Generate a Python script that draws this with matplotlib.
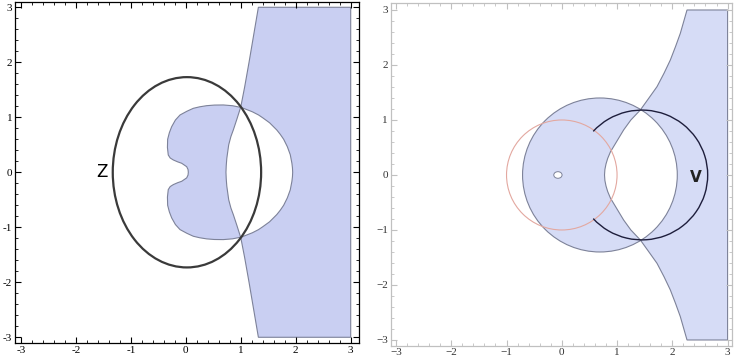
import numpy as np
import matplotlib
matplotlib.use('Agg')
import matplotlib.pyplot as plt
from matplotlib.patches import Polygon, Ellipse, Circle, Arc
from matplotlib.ticker import MultipleLocator

# ---- left panel (Z plane), upper halves; shapes are symmetric in y
z_curve_x = [0.73, 0.735, 0.745, 0.78, 0.82, 0.864, 0.93, 1.0, 1.07, 1.15, 1.235, 1.32]
z_curve_y = [0.0, 0.12, 0.25, 0.5, 0.65, 0.77, 0.97, 1.19, 1.55, 2.0, 2.5, 3.0]

kid_x = [1.944, 1.94, 1.93, 1.90, 1.847, 1.78, 1.718, 1.655, 1.524, 1.40, 1.323, 1.21, 1.07,
         1.0, 0.85, 0.682, 0.52, 0.379, 0.25, 0.136, 0.02, -0.106, -0.19, -0.258,
         -0.30, -0.331, -0.335, -0.32, -0.285, -0.228, -0.15, -0.076, 0.015, 0.04, 0.045]
kid_y = [0.0, 0.08, 0.164, 0.32, 0.465, 0.6, 0.69, 0.769, 0.9, 0.99, 1.042, 1.1, 1.155,
         1.18, 1.21, 1.224, 1.222, 1.211, 1.19, 1.163, 1.11, 1.042, 0.95, 0.829,
         0.72, 0.6, 0.45, 0.315, 0.26, 0.224, 0.19, 0.164, 0.102, 0.05, 0.0]

z_ell = (0.02, 0.0, 2.70, 3.46)   # cx, cy, width, height
z_label = ('Z', -1.53, 0.0)

# ---- right panel (V plane)
v_curve_x = [0.773, 0.78, 0.80, 0.83, 0.88, 0.94, 1.03, 1.12, 1.25, 1.42, 1.57,
             1.723, 1.85, 1.964, 2.06, 2.145, 2.266]
v_curve_y = [0.0, 0.1, 0.2, 0.3, 0.42, 0.52, 0.67, 0.82, 1.0, 1.18, 1.39,
             1.606, 1.85, 2.09, 2.34, 2.576, 3.0]
v_disk = (0.69, 0.0, 1.4)
v_hole = (-0.07, 0.0, 0.15, 0.12)
v_unit = (0.0, 0.0, 1.0)
v_arc = (1.45, 0.0, 2.38, 2.36, -138.0, 138.0)
v_label = ('V', 2.42, -0.05)

fill_l = '#c9cff2'
fill_r = '#d6dcf6'
edge_c = '#7d8299'


def closed_outline(xs, ys):
    """upper half (y>=0, from y=0 onwards) -> full y-symmetric closed outline"""
    xs, ys = np.asarray(xs), np.asarray(ys)
    return np.column_stack([np.concatenate([xs, xs[::-1][1:-1]]),
                            np.concatenate([ys, -ys[::-1][1:-1]])])


def right_region(cx, cy):
    cx, cy = np.asarray(cx), np.asarray(cy)
    # top of the curve down to its bottom, then back up along x = 3
    px = np.concatenate([cx[::-1], cx[1:], [3.0, 3.0]])
    py = np.concatenate([cy[::-1], -cy[1:], [-3.0, 3.0]])
    return np.column_stack([px, py])


def frame(ax, xlim, ylim, col, lab_col, minus):
    ax.set_xlim(*xlim)
    ax.set_ylim(*ylim)
    ax.xaxis.set_minor_locator(MultipleLocator(0.2))
    ax.yaxis.set_minor_locator(MultipleLocator(0.2))
    ax.tick_params(which='both', direction='in', top=True, right=True,
                   color=col, labelsize=8, labelcolor=lab_col, pad=2)
    ax.tick_params(which='major', length=4, width=0.8)
    ax.tick_params(which='minor', length=2, width=0.6)
    ticks = [-3, -2, -1, 0, 1, 2, 3]
    labs = [str(t).replace('-', minus) for t in ticks]
    ax.set_xticks(ticks)
    ax.set_xticklabels(labs, family='Liberation Serif')
    ax.set_yticks(ticks)
    ax.set_yticklabels(labs, family='Liberation Serif')
    for s in ax.spines.values():
        s.set_color(col)
        s.set_linewidth(0.9)


def xor_fill(ax, region, other, fc):
    """fill region XOR other: both filled, their overlap painted white"""
    ax.add_patch(Polygon(region, closed=True, fc=fc, ec='none'))
    ax.add_patch(other(fc=fc, ec='none'))
    w = Polygon(region, closed=True, fc='white', ec='none')
    ax.add_patch(w)
    w.set_clip_path(other(transform=ax.transData))
    ax.add_patch(Polygon(region, closed=True, fc='none', ec=edge_c, lw=0.8))
    ax.add_patch(other(fc='none', ec=edge_c, lw=0.8))


fig = plt.figure(figsize=(7.35, 3.62), dpi=100)
axL = fig.add_axes([15 / 735, 1 - 343 / 362, 344 / 735, 341 / 362])
axR = fig.add_axes([390.7 / 735, 1 - 345.7 / 362, 341.3 / 735, 342.7 / 362])

# ---------------- left
ax = axL
kid = closed_outline(kid_x, kid_y)
xor_fill(ax, right_region(z_curve_x, z_curve_y),
         lambda **kw: Polygon(kid, closed=True, **kw), fill_l)
ax.add_patch(Ellipse(z_ell[:2], z_ell[2], z_ell[3], fc='none', ec='#3a3a3a', lw=1.6))
ax.text(z_label[1], z_label[2], z_label[0], fontsize=12, ha='center', va='center')
frame(ax, (-3.109, 3.151), (-3.104, 3.096), 'black', 'black', '-')

# ---------------- right
ax = axR
xor_fill(ax, right_region(v_curve_x, v_curve_y),
         lambda **kw: Circle(v_disk[:2], v_disk[2], **kw), fill_r)
ax.add_patch(Ellipse(v_hole[:2], v_hole[2], v_hole[3], fc='white', ec=edge_c, lw=0.7))
ax.add_patch(Circle(v_unit[:2], v_unit[2], fc='none', ec='#e3a8a0', lw=0.8))
ax.add_patch(Arc(v_arc[:2], v_arc[2], v_arc[3], theta1=v_arc[4], theta2=v_arc[5],
                 ec='#1e1e3c', lw=1.0))
ax.text(v_label[1], v_label[2], v_label[0], fontsize=11, fontweight='bold',
        ha='center', va='center', color='#222222')
frame(ax, (-3.096, 3.08), (-3.104, 3.127), '#c0c0c0', '#333333', '\u2212')

fig.savefig('out.png', dpi=100)
